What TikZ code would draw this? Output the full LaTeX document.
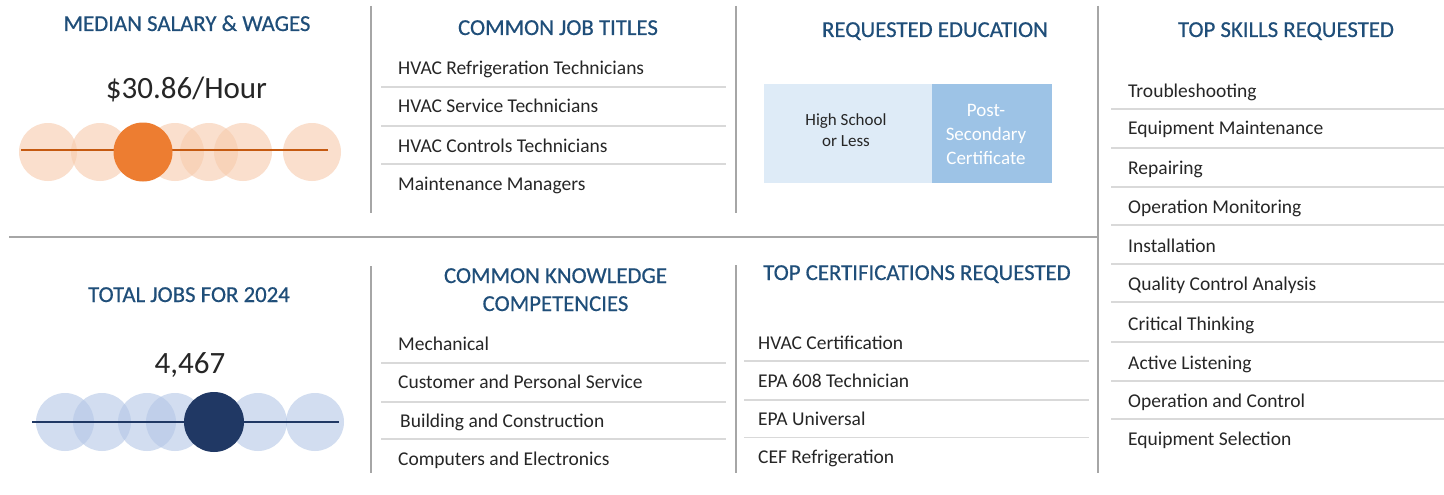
\documentclass[tikz,border=0pt]{standalone}
\usepackage{fontspec}
\setmainfont{Carlito}
\definecolor{ttl}{HTML}{1F4E79}
\definecolor{txt}{HTML}{262626}
\definecolor{divg}{HTML}{A6A6A6}
\definecolor{sepg}{HTML}{D9D9D9}
\definecolor{orL}{HTML}{F8CBAD}
\definecolor{orD}{HTML}{ED7D31}
\definecolor{orLine}{HTML}{C55A11}
\definecolor{blL}{HTML}{B4C7E7}
\definecolor{blD}{HTML}{203864}
\definecolor{edL}{HTML}{DEEBF7}
\definecolor{edD}{HTML}{9DC3E6}
\tikzset{
  ttlstyle/.style={text=ttl, font=\fontsize{22.8}{28}\selectfont\addfontfeature{FakeBold=0.5}, anchor=base, inner sep=0pt, align=center},
  itemstyle/.style={text=txt, font=\fontsize{19.5}{23}\selectfont, anchor=base west, inner sep=0pt},
  bignum/.style={text=txt, font=\fontsize{31}{35}\selectfont, anchor=base, inner sep=0pt},
  divline/.style={draw=divg, line width=1.6pt},
  sepline/.style={draw=sepg, line width=1.6pt},
  lightdot/.style={circle, minimum size=58pt, inner sep=0pt, fill opacity=0.6},
  darkdot/.style={circle, minimum size=59pt, inner sep=0pt},
}
\begin{document}
\begin{tikzpicture}[x=1pt,y=-1pt]
\useasboundingbox[fill=white] (0,0) rectangle (1444,495);
% dividers
\coordinate (v1t) at (371,6); \coordinate (v1b) at (371,213);
\coordinate (v2t) at (736,6); \coordinate (v2b) at (736,213);
\coordinate (v3t) at (1098,6); \coordinate (v3b) at (1098,473);
\coordinate (hl) at (9,237); \coordinate (hr) at (1098,237);
\coordinate (v4t) at (371,266); \coordinate (v4b) at (371,473);
\coordinate (v5t) at (736,265); \coordinate (v5b) at (736,473);
\draw[divline] (v1t) -- (v1b);
\draw[divline] (v2t) -- (v2b);
\draw[divline] (v3t) -- (v3b);
\draw[divline] (hl) -- (hr);
\draw[divline] (v4t) -- (v4b);
\draw[divline] (v5t) -- (v5b);

% titles
\node[ttlstyle] (t1) at (187,31) {MEDIAN SALARY \& WAGES};
\node[ttlstyle] (t2) at (558,35) {COMMON JOB TITLES};
\node[ttlstyle] (t3) at (935,37) {REQUESTED EDUCATION};
\node[ttlstyle] (t4) at (1286,37) {TOP SKILLS REQUESTED};
\node[ttlstyle] (t5) at (189,302) {TOTAL JOBS FOR 2024};
\node[ttlstyle] (t6a) at (555.5,283) {COMMON KNOWLEDGE};
\node[ttlstyle] (t6b) at (555.5,311) {COMPETENCIES};
\node[ttlstyle] (t7) at (917,280) {TOP CERTIFICATIONS REQUESTED};

% big numbers
\node[bignum] (n1) at (186.5,99) {\$30.86/Hour};
\node[bignum] (n2) at (190,373) {4,467};

% orange dots
\foreach \x [count=\i] in {48,100,175,209,243,312}
  \node[lightdot, fill=orL] (od\i) at (\x,152) {};
\coordinate (olA) at (21,150); \coordinate (olB) at (328,150);
\draw[draw=orLine, line width=1.4pt] (olA) -- (olB);
\node[darkdot, fill=orD] (odm) at (143,152) {};

% blue dots
\foreach \x [count=\i] in {65,102,147,175,258,315}
  \node[lightdot, fill=blL] (bd\i) at (\x,422) {};
\coordinate (blA) at (32,422); \coordinate (blB) at (339,422);
\draw[draw=blD, line width=1.4pt] (blA) -- (blB);
\node[darkdot, fill=blD, minimum size=60pt] (bdm) at (214,422) {};

% education
\node[fill=edL, minimum width=168pt, minimum height=99pt, inner sep=0pt, anchor=north west] (edA) at (764,84) {};
\node[fill=edD, minimum width=120pt, minimum height=99pt, inner sep=0pt, anchor=north west] (edB) at (932,84) {};
\node[text=txt, font=\fontsize{17}{21}\selectfont, align=center, inner sep=0pt] (edAt) at (846,130) {High School\\or Less};
\node[text=white, font=\fontsize{19}{24}\selectfont, align=center, inner sep=0pt] (edBt) at (986,134) {Post-\\Secondary\\Certificate};

% job titles
\node[itemstyle] (j1) at (398,75) {HVAC Refrigeration Technicians};
\node[itemstyle] (j2) at (398,113) {HVAC Service Technicians};
\node[itemstyle] (j3) at (398,152) {HVAC Controls Technicians};
\node[itemstyle] (j4) at (398,190) {Maintenance Managers};
\foreach \y [count=\i] in {87,126,164} {
  \coordinate (jsa\i) at (381,\y); \coordinate (jsb\i) at (726,\y);
  \draw[sepline] (jsa\i) -- (jsb\i);
}

% knowledge
\node[itemstyle] (k1) at (398,350) {Mechanical};
\node[itemstyle] (k2) at (398,388) {Customer and Personal Service};
\node[itemstyle] (k3) at (400,427) {Building and Construction};
\node[itemstyle] (k4) at (398,465) {Computers and Electronics};
\foreach \y [count=\i] in {363,402,439} {
  \coordinate (ksa\i) at (381,\y); \coordinate (ksb\i) at (726,\y);
  \draw[sepline] (ksa\i) -- (ksb\i);
}

% certifications
\node[itemstyle] (c1) at (758,349) {HVAC Certification};
\node[itemstyle] (c2) at (758,387) {EPA 608 Technician};
\node[itemstyle] (c3) at (758,425) {EPA Universal};
\node[itemstyle] (c4) at (758,463) {CEF Refrigeration};
\foreach \y/\w [count=\i] in {361/1.6,400/1.6,437/1.0} {
  \coordinate (csa\i) at (744,\y); \coordinate (csb\i) at (1089,\y);
  \draw[sepline, line width=\w pt] (csa\i) -- (csb\i);
}

% skills
\foreach \t/\y [count=\i] in {Troubleshooting/97, Equipment Maintenance/135, Repairing/174, Operation Monitoring/213, Installation/252, Quality Control Analysis/290, Critical Thinking/330, Active Listening/369, Operation and Control/407, Equipment Selection/445}
  \node[itemstyle] (s\i) at (1128,\y) {\t};
\foreach \y [count=\i] in {109,148,187,225,264,302,342,381,419} {
  \coordinate (ssa\i) at (1111,\y); \coordinate (ssb\i) at (1444,\y);
  \draw[sepline] (ssa\i) -- (ssb\i);
}
\end{tikzpicture}
\end{document}
